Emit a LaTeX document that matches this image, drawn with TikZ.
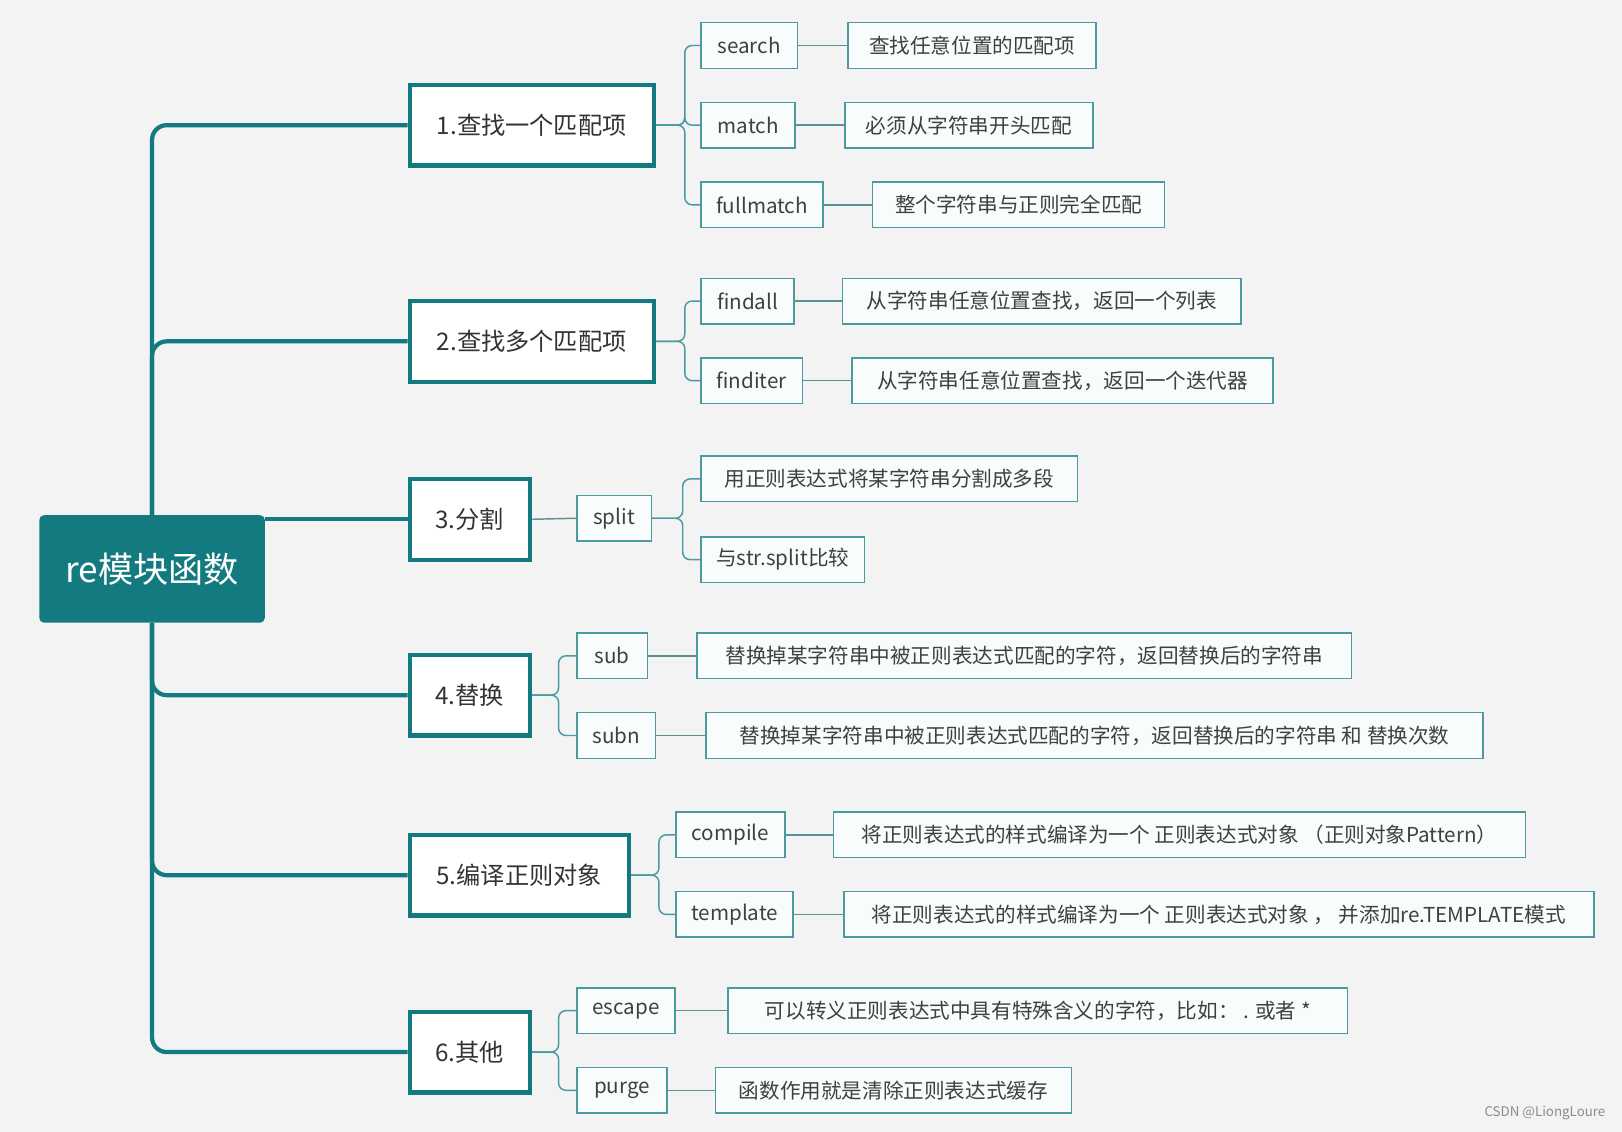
\documentclass[tikz,border=0pt]{standalone}
\usepackage{fontspec}
\setmainfont{Noto Sans CJK SC}
\usetikzlibrary{positioning, calc}
\definecolor{teal1}{HTML}{137A80}
\definecolor{teal2}{HTML}{4A9AA0}
\definecolor{bgc}{HTML}{F3F3F3}
\definecolor{leafc}{HTML}{F8FCFC}

\begin{document}
\begin{tikzpicture}[x=0.03cm, y=-0.03cm,
    rootbox/.style={fill=teal1, rounded corners=4pt, text=white, font=\fontsize{29}{34}\selectfont,
        minimum width=218*0.03cm, minimum height=104*0.03cm, inner sep=0pt},
    topicbox/.style={draw=teal1, line width=3.5pt, fill=white, anchor=west,
        font=\fontsize{20}{24}\selectfont, text=black!80, minimum height=78*0.03cm, inner sep=0pt},
    itembox/.style={draw=teal2, line width=1.2pt, fill=leafc, anchor=west,
        font=\fontsize{17}{20}\selectfont, text=black!75, minimum height=44*0.03cm, inner sep=0pt},
    trunk/.style={draw=teal1, line width=3.5pt, rounded corners=12pt},
    link/.style={draw=teal2, line width=1.2pt, rounded corners=6pt},
    tie/.style={draw=teal2!70!gray, line width=1.2pt}]
    \fill[bgc] (0,0) rectangle (1568,1094);
    \useasboundingbox (0,0) rectangle (1568,1094);

    % root and topics
    \node[rootbox] (root) at (147,550) {re模块函数};
    \node[topicbox, minimum width=236*0.03cm] (t1) at (394,121) {1.查找一个匹配项};
    \node[topicbox, minimum width=236*0.03cm] (t2) at (394,330) {2.查找多个匹配项};
    \node[topicbox, minimum width=116*0.03cm] (t3) at (394,502) {3.分割};
    \node[topicbox, minimum width=116*0.03cm] (t4) at (394,672) {4.替换};
    \node[topicbox, minimum width=212*0.03cm] (t5) at (394,846) {5.编译正则对象};
    \node[topicbox, minimum width=116*0.03cm] (t6) at (394,1017) {6.其他};

    \draw[trunk] (root.north) |- (t1.west);
    \draw[trunk] (root.north) |- (t2.west);
    \draw[trunk] (root.east |- t3.west) -- (t3.west);
    \draw[trunk] (root.south) |- (t4.west);
    \draw[trunk] (root.south) |- (t5.west);
    \draw[trunk] (root.south) |- (t6.west);

    % functions
    \node[itembox, minimum width=93*0.03cm]  (search)    at (677,44)  {search};
    \node[itembox, minimum width=91*0.03cm]  (match)     at (677,121) {match};
    \node[itembox, minimum width=118*0.03cm] (fullmatch) at (677,198) {fullmatch};
    \node[itembox, minimum width=90*0.03cm]  (findall)   at (677,291) {findall};
    \node[itembox, minimum width=98*0.03cm]  (finditer)  at (677,368) {finditer};
    \node[itembox, minimum width=72*0.03cm]  (split)     at (557,501) {split};
    \node[itembox, minimum width=68*0.03cm]  (sub)       at (557,634) {sub};
    \node[itembox, minimum width=76*0.03cm]  (subn)      at (557,711) {subn};
    \node[itembox, minimum width=105*0.03cm] (compile)   at (653,807) {compile};
    \node[itembox, minimum width=113*0.03cm] (template)  at (653,884) {template};
    \node[itembox, minimum width=95*0.03cm]  (escape)    at (557,977) {escape};
    \node[itembox, minimum width=87*0.03cm]  (purge)     at (557,1054) {purge};

    % descriptions
    \node[itembox, minimum width=240*0.03cm] (d1a) at (819,44)  {查找任意位置的匹配项};
    \node[itembox, minimum width=240*0.03cm] (d1b) at (816,121) {必须从字符串开头匹配};
    \node[itembox, minimum width=282*0.03cm] (d1c) at (843,198) {整个字符串与正则完全匹配};
    \node[itembox, minimum width=385*0.03cm] (d2a) at (814,291) {从字符串任意位置查找，返回一个列表};
    \node[itembox, minimum width=407*0.03cm] (d2b) at (823,368) {从字符串任意位置查找，返回一个迭代器};
    \node[itembox, minimum width=364*0.03cm] (d3a) at (677,463) {用正则表达式将某字符串分割成多段};
    \node[itembox, minimum width=158*0.03cm] (d3b) at (677,541) {与str.split比较};
    \node[itembox, minimum width=633*0.03cm] (d4a) at (673,634) {替换掉某字符串中被正则表达式匹配的字符，返回替换后的字符串};
    \node[itembox, minimum width=751*0.03cm] (d4b) at (682,711) {替换掉某字符串中被正则表达式匹配的字符，返回替换后的字符串 和 替换次数};
    \node[itembox, minimum width=669*0.03cm] (d5a) at (805,807) {将正则表达式的样式编译为一个 正则表达式对象 （正则对象Pattern）};
    \node[itembox, minimum width=725*0.03cm] (d5b) at (815,884) {将正则表达式的样式编译为一个 正则表达式对象 ， 并添加re.TEMPLATE模式};
    \node[itembox, minimum width=599*0.03cm] (d6a) at (703,977) {可以转义正则表达式中具有特殊含义的字符，比如： . 或者 *};
    \node[itembox, minimum width=344*0.03cm] (d6b) at (691,1054) {函数作用就是清除正则表达式缓存};

    % brackets
    \coordinate (b1) at (662,0);
    \coordinate (b3) at (540,0);
    \coordinate (b3b) at (660,0);
    \coordinate (b5) at (637,0);
    \foreach \p/\c/\b in {t1/search/b1, t1/match/b1, t1/fullmatch/b1,
                          t2/findall/b1, t2/finditer/b1,
                          split/d3a/b3b, split/d3b/b3b,
                          t4/sub/b3, t4/subn/b3,
                          t5/compile/b5, t5/template/b5,
                          t6/escape/b3, t6/purge/b3}
        \draw[link] (\p.east) -- (\p.east -| \b) |- (\c.west);
    \draw[tie] (t3.east) -- (split.west);
    \foreach \a/\d in {search/d1a, match/d1b, fullmatch/d1c, findall/d2a, finditer/d2b,
                       sub/d4a, subn/d4b, compile/d5a, template/d5b, escape/d6a, purge/d6b}
        \draw[tie] (\a.east) -- (\d.west);

    \node[text=black!45, font=\fontsize{11}{13}\selectfont, anchor=east] (mark) at (1556,1076) {CSDN @LiongLoure};
\end{tikzpicture}
\end{document}
